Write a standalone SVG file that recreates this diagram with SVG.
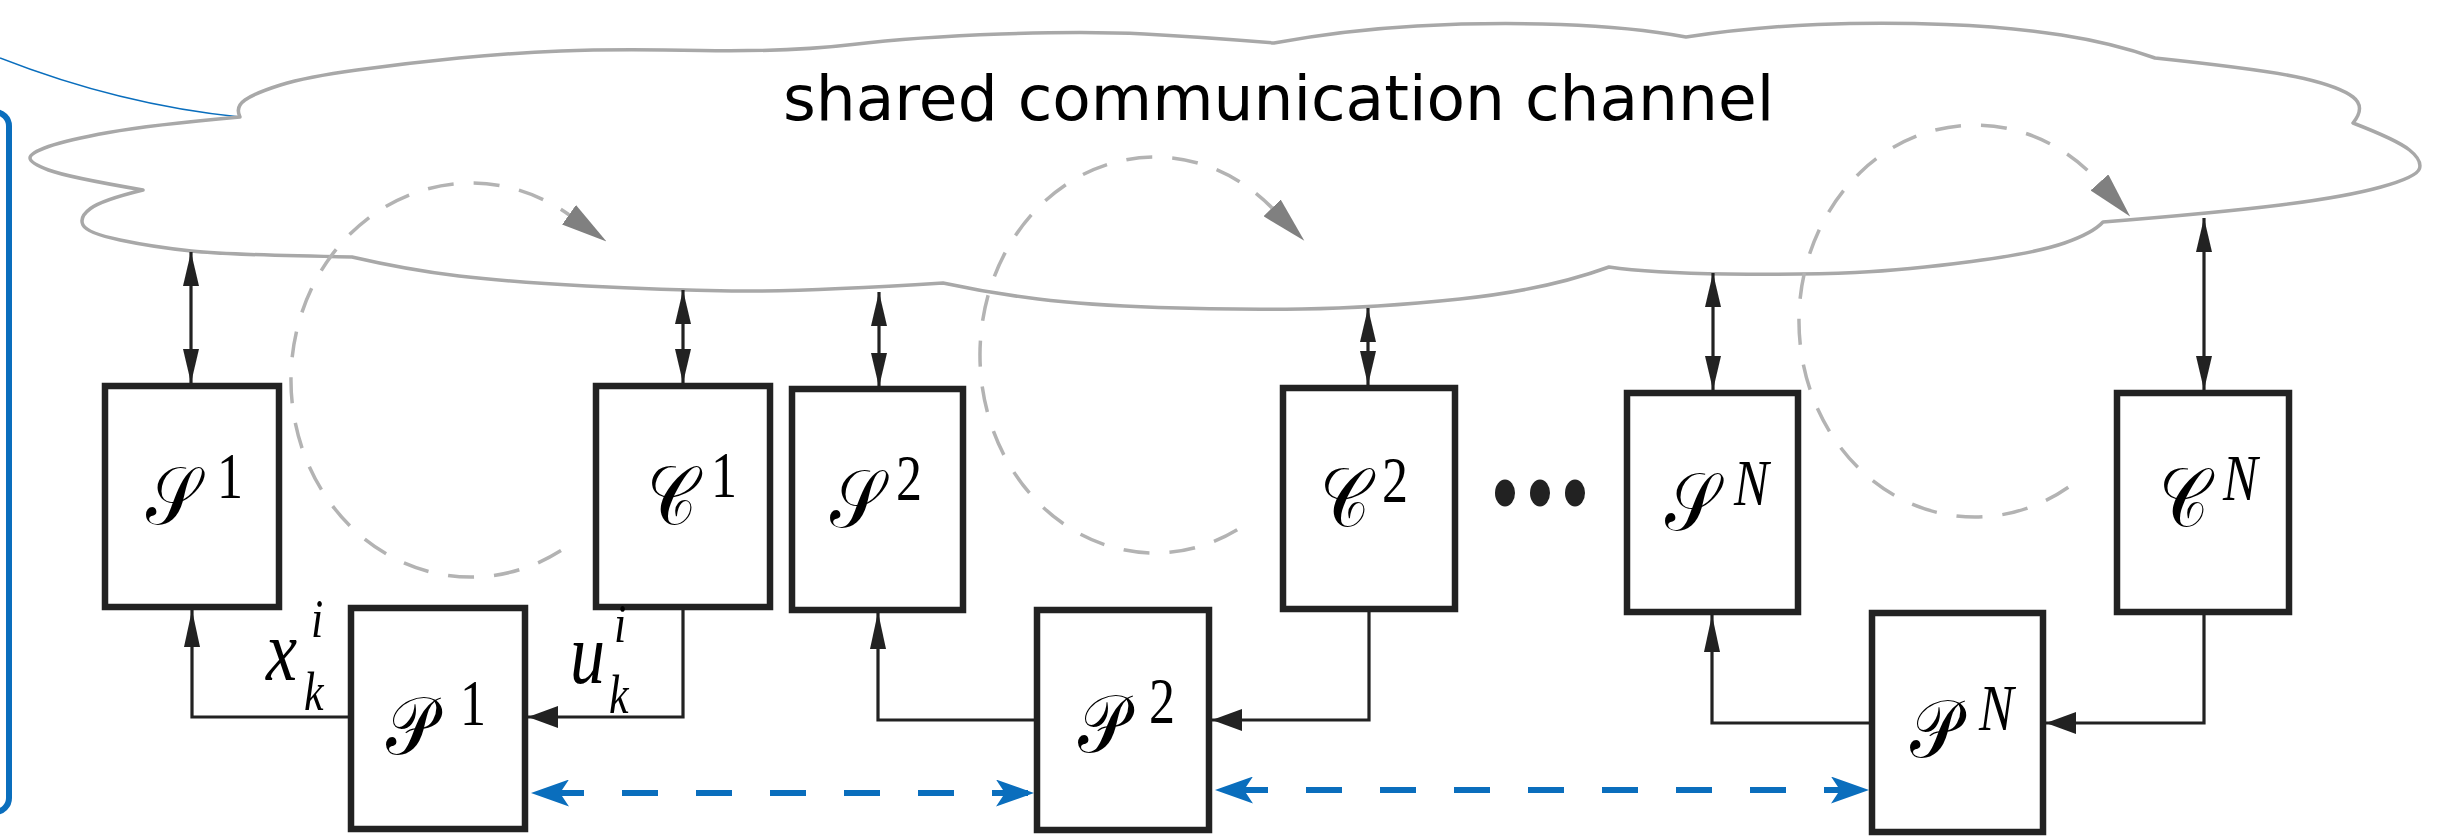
<svg xmlns="http://www.w3.org/2000/svg" width="2457" height="836" viewBox="0 0 2457 836">
<style>
.box{fill:#fff;stroke:#222;stroke-width:6.5}
.cn{fill:none;stroke:#222;stroke-width:3.2}
.loop{fill:none;stroke:#b3b3b3;stroke-width:3.5;stroke-dasharray:26 20}
.bl{fill:none;stroke:#0a6ebd;stroke-width:6;stroke-dasharray:36 38;stroke-dashoffset:57}
.scr{font-family:"DejaVu Serif","DejaVu Sans","Noto Sans",serif;font-size:68px;fill:#000}
.sup{font-family:"Liberation Serif",serif;font-size:52px;fill:#000}
.it{font-family:"Liberation Serif",serif;font-style:italic;fill:#000}
</style>
<defs>
<marker id="dbl" viewBox="0 0 34 16" refX="34" refY="8" markerWidth="34" markerHeight="16" markerUnits="userSpaceOnUse" orient="auto-start-reverse"><path d="M0,0 L34,8 L0,16 Z" fill="#222"/></marker>
<marker id="up" viewBox="0 0 37 16" refX="37" refY="8" markerWidth="37" markerHeight="16" markerUnits="userSpaceOnUse" orient="auto"><path d="M0,0 L37,8 L0,16 Z" fill="#222"/></marker>
<marker id="lf" viewBox="0 0 30 22" refX="30" refY="11" markerWidth="30" markerHeight="22" markerUnits="userSpaceOnUse" orient="auto"><path d="M0,0 L30,11 L0,22 Z" fill="#222"/></marker>
<marker id="blu" viewBox="0 0 38 27" refX="38" refY="13.5" markerWidth="38" markerHeight="27" markerUnits="userSpaceOnUse" orient="auto-start-reverse"><path d="M38,13.5 L0,0 L9,13.5 L0,27 Z" fill="#0a6ebd"/></marker>
<marker id="gr" viewBox="0 0 46 24" refX="0" refY="12" markerWidth="46" markerHeight="24" markerUnits="userSpaceOnUse" orient="auto"><path d="M0,0 L46,12 L0,24 Z" fill="#808080"/></marker>
</defs>
<rect width="2457" height="836" fill="#fff"/>
<g id="callout">
<rect x="-40" y="112" width="49" height="700" rx="14" fill="none" stroke="#0a6ebd" stroke-width="6"/>
<path d="M0,58 Q120,105 240,117" fill="none" stroke="#0a6ebd" stroke-width="1.6"/>
</g>
<g id="cloud">
<path d="M240,117 Q235,107 245,100 Q255,93 280.5,85 Q306,77 357,70 Q408,63 459,58 Q510,53 561,51 Q612,49 701,50.5 Q790,52 852.5,44.5 Q915,37 1001,34 Q1087,31 1144.5,34 Q1202,37 1274,43
Q1345,30 1417,26 Q1489,22 1560.5,24.5 Q1632,27 1686,37
Q1753,27 1817.5,24.5 Q1882,22 1946,24.5 Q2010,27 2061.5,35 Q2113,43 2155,58
Q2268,70 2304,78.5 Q2340,87 2353,97 Q2366,107 2353,123
Q2397,140 2409.5,150 Q2422,160 2419.5,168.5 Q2417,177 2381,187 Q2345,197 2280.5,205 Q2216,213 2103,222
Q2093,233 2064.5,243 Q2036,253 1971.5,261.5 Q1907,270 1855.5,272.5 Q1804,275 1727,274 Q1650,273 1609,267
Q1546,290 1460,299 Q1374,308 1302,309 Q1230,310 1158.5,307.5 Q1087,305 1038,299 Q989,293 943,283
Q800,292 731.5,291 Q663,290 586.5,286 Q510,282 459,276 Q408,270 352,257
Q230,255 191.5,251 Q153,247 120,240 Q87,233 83,225 Q79,217 90.5,208.5 Q102,200 143,190
Q67,177 48.5,170 Q30,163 30,158 Q30,153 48.5,146.5 Q67,140 108.5,132.5 Q150,125 240,117 Z" fill="#fff" stroke="#a8a8a8" stroke-width="3.5" stroke-linejoin="round"/>
<text x="783" y="120" font-family="DejaVu Sans" font-size="63" fill="#000">shared communication channel</text>
</g>
<g id="loops">
<path class="loop" d="M561,550.6 A180,197 0 1 1 569,214.8" marker-end="url(#gr)"/>
<path class="loop" d="M1237.2,529.8 A175,198 0 1 1 1272.1,207.9" marker-end="url(#gr)"/>
<path class="loop" d="M2068.3,487.2 A176,196 0 1 1 2099.4,182.4" marker-end="url(#gr)"/>
</g>
<g id="connectors">
<path class="cn" stroke-width="3.8" d="M191,252 V383" marker-start="url(#dbl)" marker-end="url(#dbl)"/>
<path class="cn" stroke-width="3.8" d="M683,290 V383" marker-start="url(#dbl)" marker-end="url(#dbl)"/>
<path class="cn" stroke-width="3.8" d="M879,292 V387" marker-start="url(#dbl)" marker-end="url(#dbl)"/>
<path class="cn" stroke-width="3.8" d="M1368,308 V385" marker-start="url(#dbl)" marker-end="url(#dbl)"/>
<path class="cn" stroke-width="3.8" d="M1713,273 V390" marker-start="url(#dbl)" marker-end="url(#dbl)"/>
<path class="cn" stroke-width="3.8" d="M2204,218 V390" marker-start="url(#dbl)" marker-end="url(#dbl)"/>
<path class="cn" d="M351,717 H192 V610" marker-end="url(#up)"/>
<path class="cn" d="M683,610 V717 H528" marker-end="url(#lf)"/>
<path class="cn" d="M1037,720 H878 V612" marker-end="url(#up)"/>
<path class="cn" d="M1369,612 V720 H1212" marker-end="url(#lf)"/>
<path class="cn" d="M1872,723 H1712 V615" marker-end="url(#up)"/>
<path class="cn" d="M2204,615 V723 H2046" marker-end="url(#lf)"/>
<path class="bl" d="M531,793 H1034" marker-start="url(#blu)" marker-end="url(#blu)"/>
<path class="bl" d="M1215,790 H1869" marker-start="url(#blu)" marker-end="url(#blu)"/>
</g>
<g id="S1"><rect class="box" x="105" y="386" width="174" height="221"/>
<g transform="translate(146,524) scale(1,1.2)"><text class="scr">𝒮</text></g>
<g transform="translate(217,498) scale(1,1.25)"><text class="sup">1</text></g></g>
<g id="C1"><rect class="box" x="596" y="386" width="174" height="221"/>
<g transform="translate(647,524) scale(1,1.2)"><text class="scr">𝒞</text></g>
<g transform="translate(711,497) scale(1,1.25)"><text class="sup">1</text></g></g>
<g id="S2"><rect class="box" x="792" y="389" width="171" height="221"/>
<g transform="translate(830,527) scale(1,1.2)"><text class="scr">𝒮</text></g>
<g transform="translate(896,500) scale(1,1.25)"><text class="sup">2</text></g></g>
<g id="C2"><rect class="box" x="1283" y="388" width="172" height="221"/>
<g transform="translate(1320,526) scale(1,1.2)"><text class="scr">𝒞</text></g>
<g transform="translate(1382,502) scale(1,1.25)"><text class="sup">2</text></g></g>
<g id="dots" fill="#222"><ellipse cx="1505" cy="493" rx="10" ry="13.5"/><ellipse cx="1540" cy="493" rx="10" ry="13.5"/><ellipse cx="1575" cy="493" rx="10" ry="13.5"/></g>
<g id="SN"><rect class="box" x="1627" y="393" width="171" height="219"/>
<g transform="translate(1665,530) scale(1,1.2)"><text class="scr">𝒮</text></g>
<g transform="translate(1734,505) scale(1,1.25)"><text class="sup" font-style="italic">N</text></g></g>
<g id="CN"><rect class="box" x="2117" y="393" width="172" height="219"/>
<g transform="translate(2159,526) scale(1,1.2)"><text class="scr">𝒞</text></g>
<g transform="translate(2223,500) scale(1,1.25)"><text class="sup" font-style="italic">N</text></g></g>
<g id="P1"><rect class="box" x="351" y="608" width="174" height="221"/>
<g transform="translate(386,754) scale(1,1.2)"><text class="scr">𝒫</text></g>
<g transform="translate(460,725) scale(1,1.25)"><text class="sup">1</text></g></g>
<g id="P2"><rect class="box" x="1037" y="610" width="172" height="220"/>
<g transform="translate(1078,752) scale(1,1.2)"><text class="scr">𝒫</text></g>
<g transform="translate(1149,723) scale(1,1.25)"><text class="sup">2</text></g></g>
<g id="PN"><rect class="box" x="1872" y="613" width="171" height="219"/>
<g transform="translate(1910,757) scale(1,1.2)"><text class="scr">𝒫</text></g>
<g transform="translate(1979,730) scale(1,1.25)"><text class="sup" font-style="italic">N</text></g></g>
<g id="labels">
<g transform="translate(266,680) scale(1,1.25)"><text class="it" font-size="70">x</text></g>
<g transform="translate(311,637) scale(1,1.25)"><text class="it" font-size="44">i</text></g>
<g transform="translate(304,710) scale(1,1.25)"><text class="it" font-size="44">k</text></g>
<g transform="translate(570,683) scale(1,1.25)"><text class="it" font-size="70">u</text></g>
<g transform="translate(614,642) scale(1,1.25)"><text class="it" font-size="44">i</text></g>
<g transform="translate(609,713) scale(1,1.25)"><text class="it" font-size="44">k</text></g>
</g>
</svg>
